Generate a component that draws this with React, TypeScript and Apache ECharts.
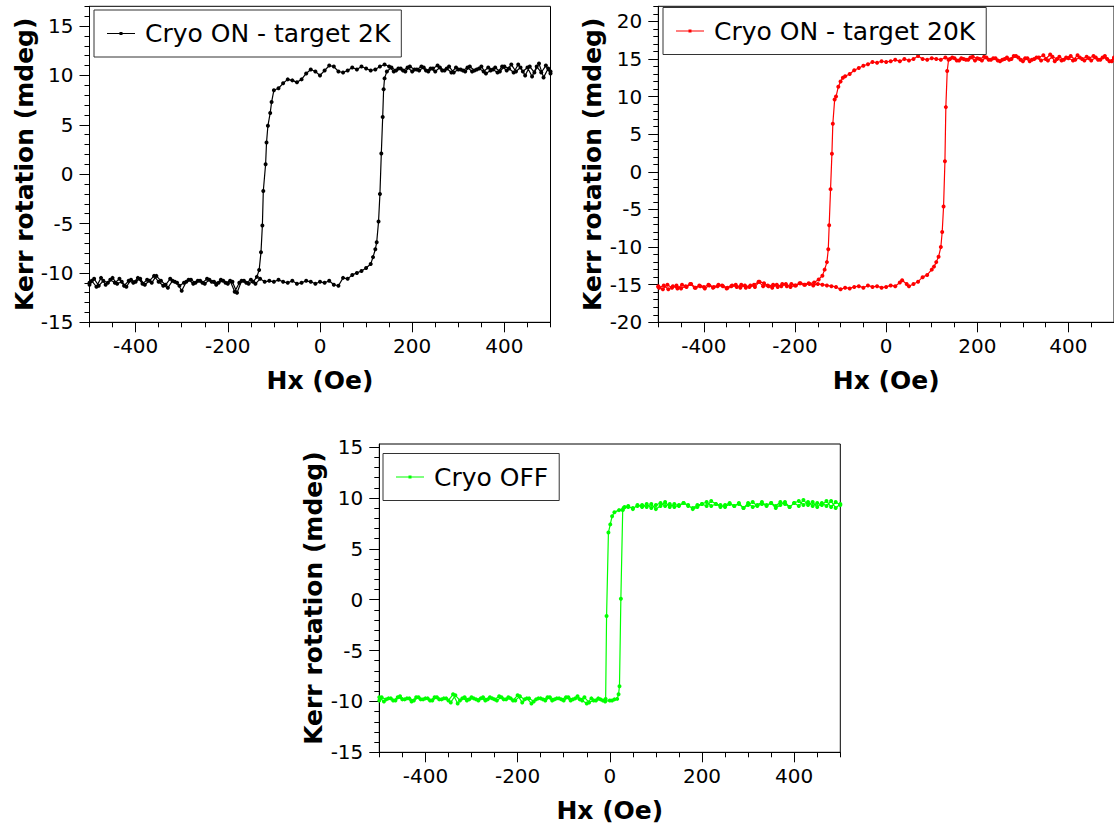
import React, { useEffect, useRef } from 'react';
import * as echarts from 'echarts';

const FONT = 'DejaVu Sans';

// Tick positions (Oe / mdeg)
const xMajor = [-400, -200, 0, 200, 400];
const xMinor = [-500, -450, -350, -300, -250, -150, -100, -50, 50, 100, 150, 250, 300, 350, 450, 500];
const y1Major = [-15, -10, -5, 0, 5, 10, 15];
const y1Minor = [-14, -13, -12, -11, -9, -8, -7, -6, -4, -3, -2, -1, 1, 2, 3, 4, 6, 7, 8, 9, 11, 12, 13, 14, 16, 17];
const y2Major = [-20, -15, -10, -5, 0, 5, 10, 15, 20];
const y2Minor = [-19, -18, -17, -16, -14, -13, -12, -11, -9, -8, -7, -6, -4, -3, -2, -1, 1, 2, 3, 4, 6, 7, 8, 9, 11, 12, 13, 14, 16, 17, 18, 19, 21, 22];
const y3Major = [-15, -10, -5, 0, 5, 10, 15];
const y3Minor = [-14, -13, -12, -11, -9, -8, -7, -6, -4, -3, -2, -1, 1, 2, 3, 4, 6, 7, 8, 9, 11, 12, 13, 14];

// Cryo ON - target 2K : [Hx (Oe), Kerr (mdeg)]
const down2K = [
  [500, 10.2], [490, 11.0], [480, 10.3], [470, 10.9], [460, 9.9], [450, 10.8], [440, 10.4], [430, 11.1], [420, 10.3], [410, 10.7],
  [400, 10.9], [390, 10.4], [380, 10.8], [370, 10.5], [360, 10.2], [350, 10.9], [340, 10.6], [330, 10.4], [320, 10.8], [310, 10.5],
  [300, 10.6], [290, 10.3], [280, 10.9], [270, 10.5], [260, 10.8], [250, 10.4], [240, 10.7], [230, 10.5], [220, 10.9], [210, 10.6],
  [200, 10.4], [190, 10.8], [180, 10.5], [170, 10.7], [160, 10.4], [150, 10.9], [140, 11.1], [130, 10.9], [120, 10.6], [110, 10.5],
  [100, 10.7], [90, 10.9], [80, 10.6], [70, 10.8], [60, 10.5], [50, 10.3], [40, 10.4], [30, 10.9], [20, 11.0], [10, 10.5],
  [0, 10.0], [-10, 10.4], [-20, 10.6], [-30, 10.2], [-40, 9.6], [-50, 9.3], [-60, 9.5], [-70, 9.6], [-80, 9.2], [-90, 8.7],
  [-100, 8.5], [-105, 7.3], [-108, 6.2], [-113, 4.9], [-116, 3.2], [-118, 1.0], [-123, -1.7], [-125, -5.2], [-128, -7.9], [-132, -9.7],
  [-137, -10.4], [-145, -10.9], [-155, -11.1], [-165, -10.8], [-175, -11.0], [-185, -11.9], [-195, -10.8], [-205, -11.0], [-215, -10.7], [-225, -11.2],
  [-235, -10.9], [-245, -10.6], [-255, -11.0], [-265, -10.8], [-275, -11.1], [-285, -10.7], [-295, -11.0], [-305, -11.3], [-315, -10.9], [-325, -10.6],
  [-335, -11.2], [-345, -10.8], [-355, -10.3], [-365, -11.0], [-375, -10.7], [-385, -11.1], [-395, -10.5], [-405, -11.0], [-415, -10.8], [-425, -11.3],
  [-435, -10.6], [-445, -11.0], [-455, -10.7], [-465, -11.2], [-475, -10.5], [-485, -11.4], [-495, -10.8], [-500, -11.0],
];
const up2K = [
  [-500, -11.2], [-490, -10.6], [-480, -11.3], [-470, -10.8], [-460, -11.0], [-450, -10.5], [-440, -11.1], [-430, -10.9], [-420, -11.4], [-410, -10.7],
  [-400, -10.9], [-390, -10.6], [-380, -11.2], [-370, -10.8], [-360, -10.3], [-350, -10.9], [-340, -11.3], [-330, -11.5], [-320, -10.8], [-310, -11.0],
  [-300, -11.8], [-290, -10.9], [-280, -10.7], [-270, -11.0], [-260, -10.8], [-250, -11.1], [-240, -10.7], [-230, -10.9], [-220, -11.0], [-210, -10.8],
  [-200, -11.1], [-190, -10.9], [-180, -12.0], [-170, -10.8], [-160, -11.0], [-150, -10.7], [-140, -11.1], [-130, -10.6], [-120, -10.9], [-110, -10.8],
  [-100, -10.9], [-90, -10.7], [-80, -10.9], [-70, -11.0], [-60, -10.8], [-50, -11.1], [-40, -11.0], [-30, -10.8], [-20, -10.9], [-10, -11.1],
  [0, -10.9], [10, -11.0], [20, -10.8], [30, -11.2], [40, -11.3], [50, -10.5], [60, -10.6], [70, -10.2], [80, -10.0], [90, -9.8],
  [100, -9.5], [110, -9.1], [115, -8.4], [120, -7.6], [123, -6.9], [127, -4.8], [130, -2.0], [133, 2.1], [136, 5.8], [138, 8.6],
  [140, 9.7], [145, 10.4], [155, 10.8], [165, 10.5], [175, 10.7], [185, 10.4], [195, 10.9], [205, 10.6], [215, 10.5], [225, 10.8],
  [235, 10.4], [245, 10.7], [255, 11.0], [265, 10.5], [275, 10.7], [285, 10.3], [295, 10.8], [305, 10.6], [315, 10.4], [325, 10.9],
  [335, 10.5], [345, 10.7], [355, 10.4], [365, 10.8], [375, 10.6], [385, 10.3], [395, 10.9], [405, 10.5], [415, 11.1], [425, 10.4],
  [435, 10.8], [445, 10.0], [455, 10.9], [465, 10.3], [475, 11.2], [485, 9.8], [495, 10.7], [500, 10.4],
];

// Cryo ON - target 20K
const down20K = [
  [500, 15.1], [490, 14.7], [480, 15.4], [470, 14.9], [460, 15.2], [450, 14.8], [440, 15.3], [430, 15.0], [420, 15.5], [410, 14.8],
  [400, 15.1], [390, 14.9], [380, 15.3], [370, 14.7], [360, 15.6], [350, 15.0], [340, 14.8], [330, 15.2], [320, 14.9], [310, 15.1],
  [300, 14.7], [290, 15.2], [280, 15.4], [270, 14.9], [260, 15.0], [250, 14.7], [240, 15.1], [230, 14.9], [220, 15.2], [210, 14.8],
  [200, 15.1], [190, 15.3], [180, 14.9], [170, 15.0], [160, 14.8], [150, 15.1], [140, 15.0], [130, 15.2], [120, 14.9], [110, 15.0],
  [100, 15.1], [90, 14.9], [80, 15.0], [70, 15.4], [60, 15.0], [50, 14.8], [40, 15.0], [30, 14.7], [20, 14.9], [10, 14.7],
  [0, 14.6], [-10, 14.7], [-20, 14.5], [-30, 14.6], [-40, 14.3], [-50, 14.1], [-60, 13.8], [-70, 13.5], [-80, 13.0], [-90, 12.7],
  [-95, 12.5], [-100, 12.0], [-105, 11.3], [-110, 10.0], [-113, 9.6], [-117, 6.4], [-119, 2.4], [-122, -2.3], [-125, -7.1], [-127, -10.3],
  [-130, -12.0], [-135, -13.0], [-140, -13.8], [-148, -14.3], [-158, -14.7], [-168, -14.9], [-178, -15.0], [-188, -14.8], [-198, -15.1], [-208, -14.9],
  [-218, -15.2], [-228, -14.9], [-238, -15.3], [-248, -15.0], [-258, -15.2], [-268, -14.8], [-278, -14.6], [-288, -15.3], [-298, -15.1], [-308, -15.4],
  [-318, -15.0], [-328, -15.3], [-338, -15.1], [-348, -15.4], [-358, -15.2], [-368, -15.0], [-378, -15.3], [-388, -15.1], [-398, -15.5], [-408, -15.2],
  [-418, -15.4], [-428, -14.9], [-438, -15.3], [-448, -15.0], [-458, -15.5], [-468, -15.2], [-478, -15.6], [-488, -15.1], [-498, -15.4], [-500, -15.3],
];
const up20K = [
  [-500, -15.2], [-490, -15.6], [-480, -15.0], [-470, -15.4], [-460, -15.1], [-450, -15.5], [-440, -15.2], [-430, -14.9], [-420, -15.4], [-410, -15.1],
  [-400, -15.3], [-390, -15.0], [-380, -15.4], [-370, -15.2], [-360, -15.1], [-350, -15.5], [-340, -15.2], [-330, -15.0], [-320, -15.4], [-310, -15.1],
  [-300, -15.3], [-290, -15.0], [-280, -14.6], [-270, -15.2], [-260, -15.1], [-250, -15.4], [-240, -15.0], [-230, -15.2], [-220, -14.9], [-210, -15.3],
  [-200, -15.1], [-190, -14.8], [-180, -15.0], [-170, -14.8], [-160, -15.1], [-150, -14.9], [-140, -15.0], [-130, -15.1], [-120, -15.2], [-110, -15.3],
  [-100, -15.6], [-90, -15.4], [-80, -15.5], [-70, -15.3], [-60, -15.2], [-50, -15.4], [-40, -15.1], [-30, -15.3], [-20, -15.2], [-10, -15.4],
  [0, -15.3], [10, -15.1], [20, -15.2], [30, -14.7], [35, -14.4], [45, -14.9], [50, -15.2], [60, -14.9], [70, -14.6], [80, -14.0],
  [90, -13.7], [100, -13.0], [105, -12.6], [110, -12.0], [115, -11.3], [120, -10.0], [123, -8.0], [126, -4.6], [129, 1.4], [131, 8.6],
  [134, 13.4], [137, 14.9], [145, 15.2], [155, 14.8], [165, 15.1], [175, 14.9], [185, 15.2], [195, 14.8], [205, 15.0], [215, 15.3],
  [225, 14.9], [235, 15.1], [245, 14.8], [255, 14.9], [265, 15.2], [275, 15.0], [285, 15.4], [295, 14.9], [305, 15.1], [315, 14.7],
  [325, 15.0], [335, 15.2], [345, 15.5], [355, 14.8], [365, 15.3], [375, 15.0], [385, 14.8], [395, 15.2], [405, 15.4], [415, 14.9],
  [425, 15.2], [435, 14.8], [445, 15.1], [455, 15.4], [465, 14.9], [475, 15.2], [485, 15.0], [495, 14.7], [500, 15.2],
];

// Cryo OFF
const downOff = [
  [500, 9.4], [490, 9.0], [480, 9.7], [470, 9.2], [460, 9.5], [450, 9.1], [440, 9.6], [430, 9.3], [420, 9.8], [410, 9.2],
  [400, 9.5], [390, 9.1], [380, 9.6], [370, 9.3], [360, 9.0], [350, 9.5], [340, 9.2], [330, 9.6], [320, 9.3], [310, 9.1],
  [300, 9.5], [290, 9.0], [280, 9.4], [270, 9.2], [260, 9.5], [250, 9.3], [240, 9.1], [230, 9.4], [220, 9.7], [210, 9.2],
  [200, 9.4], [190, 9.1], [180, 8.9], [170, 9.3], [160, 9.5], [150, 9.2], [140, 9.4], [130, 9.1], [120, 9.6], [110, 9.2],
  [100, 8.9], [90, 9.4], [80, 9.1], [70, 9.3], [60, 9.2], [50, 9.0], [40, 9.1], [30, 9.0], [20, 8.8], [10, 8.6],
  [5, 8.2], [1, 7.4], [-3, 6.6], [-7, -1.6], [-9, -9.75], [-15, -9.9], [-25, -9.7], [-35, -9.9], [-45, -10.1], [-55, -9.6],
  [-65, -9.8], [-75, -9.7], [-85, -9.9], [-95, -9.6], [-105, -9.8], [-115, -9.7], [-125, -9.9], [-135, -9.6], [-145, -9.8], [-155, -9.7],
  [-165, -10.0], [-175, -9.7], [-185, -9.8], [-195, -9.5], [-205, -9.9], [-215, -9.7], [-225, -9.8], [-235, -9.6], [-245, -9.9], [-255, -9.7],
  [-265, -9.8], [-275, -9.6], [-285, -9.9], [-295, -9.7], [-305, -9.8], [-315, -9.6], [-325, -9.9], [-335, -9.4], [-345, -10.1], [-355, -9.7],
  [-365, -9.8], [-375, -9.6], [-385, -9.9], [-395, -9.7], [-405, -9.8], [-415, -9.6], [-425, -9.9], [-435, -9.7], [-445, -9.8], [-455, -9.5],
  [-465, -9.9], [-475, -9.7], [-485, -9.8], [-495, -9.6], [-500, -9.9],
];
const upOff = [
  [-500, -9.6], [-490, -10.0], [-480, -9.7], [-470, -9.9], [-460, -9.6], [-450, -9.8], [-440, -9.7], [-430, -10.0], [-420, -9.6], [-410, -9.8],
  [-400, -9.7], [-390, -9.9], [-380, -9.6], [-370, -9.8], [-360, -9.7], [-350, -9.9], [-340, -9.3], [-330, -10.2], [-320, -9.7], [-310, -9.9],
  [-300, -9.6], [-290, -9.8], [-280, -9.7], [-270, -9.9], [-260, -9.6], [-250, -9.8], [-240, -9.5], [-230, -9.8], [-220, -9.6], [-210, -9.9],
  [-200, -9.4], [-190, -10.1], [-180, -9.7], [-170, -10.2], [-160, -9.8], [-150, -9.7], [-140, -9.9], [-130, -9.6], [-120, -9.8], [-110, -9.7],
  [-100, -9.9], [-90, -9.6], [-80, -9.8], [-70, -9.5], [-60, -9.9], [-50, -10.2], [-40, -9.7], [-30, -9.9], [-20, -9.8], [-10, -10.0],
  [0, -9.9], [5, -9.9], [10, -9.8], [16, -9.75], [19, -9.3], [21, -8.5], [24, 0.1], [28, 8.8], [32, 9.1], [40, 9.2],
  [50, 8.9], [60, 9.3], [70, 9.1], [80, 9.4], [90, 9.0], [100, 9.3], [110, 9.5], [120, 9.2], [130, 9.4], [140, 9.1],
  [150, 9.3], [160, 9.5], [170, 9.2], [180, 9.0], [190, 9.3], [200, 9.4], [210, 9.6], [220, 9.2], [230, 9.4], [240, 9.3],
  [250, 9.1], [260, 9.4], [270, 9.2], [280, 9.5], [290, 9.0], [300, 9.3], [310, 9.6], [320, 9.2], [330, 9.4], [340, 9.3],
  [350, 9.5], [360, 9.2], [370, 9.6], [380, 9.4], [390, 9.1], [400, 9.5], [410, 9.7], [420, 9.3], [430, 9.6], [440, 9.2],
  [450, 9.5], [460, 9.3], [470, 9.7], [480, 9.1], [490, 9.6], [500, 9.3],
];

const names = ['Cryo ON - target 2K', 'Cryo ON - target 20K', 'Cryo OFF'];
const colors = ['#000000', '#ff0000', '#00ff00'];

const ICON = 'path://M0,0h0.01v0.01h-0.01z M33,10h-0.01v-0.01h0.01z M0,4.5h28v1h-28z M12.5,3.5h3v3h-3z';

const panels = [
  { left: 89.5, top: 6.3, yMin: -15, yMax: 17, yMajor: y1Major, yMinor: y1Minor, legendLeft: 94, legendTop: 10, data: [...down2K, ...up2K] },
  { left: 658.3, top: 6.3, yMin: -20, yMax: 22, yMajor: y2Major, yMinor: y2Minor, legendLeft: 663, legendTop: 7.5, data: [...down20K, ...up20K] },
  { left: 379.3, top: 444, yMin: -15, yMax: 15.3, yMajor: y3Major, yMinor: y3Minor, legendLeft: 383, legendTop: 453.5, data: [...downOff, ...upOff] },
];
const GW = 461;
const GH = [316, 316, 308.3];

export default function App() {
  const ref = useRef<HTMLDivElement>(null);
  useEffect(() => {
    if (!ref.current) return;
    const chart = echarts.init(ref.current, null, { renderer: 'svg' });
    const grid: any[] = [];
    const xAxis: any[] = [];
    const yAxis: any[] = [];
    const series: any[] = [];
    const legend: any[] = [];
    panels.forEach((p, i) => {
      const g = { left: p.left, top: p.top, width: GW, height: GH[i] };
      grid.push({ ...g, show: true, borderColor: '#000', borderWidth: 1, backgroundColor: 'transparent' });
      grid.push({ ...g, show: false });
      const mainIdx = i * 2;
      const minorIdx = i * 2 + 1;
      xAxis.push({
        type: 'value', gridIndex: mainIdx, min: -500, max: 500,
        name: 'Hx (Oe)', nameLocation: 'middle', nameGap: 46,
        nameTextStyle: { fontFamily: FONT, fontSize: 25, fontWeight: 'bold', color: '#000' },
        axisLine: { show: true, onZero: false, lineStyle: { color: '#000', width: 1 } },
        axisTick: { show: true, length: 10, customValues: xMajor, lineStyle: { color: '#000', width: 1 } },
        axisLabel: { customValues: xMajor, fontFamily: FONT, fontSize: 20, color: '#000', margin: 14 },
        splitLine: { show: false },
      });
      xAxis.push({
        type: 'value', gridIndex: minorIdx, min: -500, max: 500,
        axisLine: { show: false, onZero: false },
        axisTick: { show: true, length: 5, customValues: xMinor, lineStyle: { color: '#000', width: 1 } },
        axisLabel: { show: false },
        splitLine: { show: false },
      });
      yAxis.push({
        type: 'value', gridIndex: mainIdx, min: p.yMin, max: p.yMax,
        name: 'Kerr rotation (mdeg)', nameLocation: 'middle', nameGap: 53, nameRotate: 90,
        nameTextStyle: { fontFamily: FONT, fontSize: 25, fontWeight: 'bold', color: '#000' },
        axisLine: { show: true, onZero: false, lineStyle: { color: '#000', width: 1 } },
        axisTick: { show: true, length: 10, customValues: p.yMajor, lineStyle: { color: '#000', width: 1 } },
        axisLabel: { customValues: p.yMajor, fontFamily: FONT, fontSize: 20, color: '#000', margin: 16 },
        splitLine: { show: false },
      });
      yAxis.push({
        type: 'value', gridIndex: minorIdx, min: p.yMin, max: p.yMax,
        axisLine: { show: false, onZero: false },
        axisTick: { show: true, length: 5, customValues: p.yMinor, lineStyle: { color: '#000', width: 1 } },
        axisLabel: { show: false },
        splitLine: { show: false },
      });
      series.push({
        type: 'line', name: names[i], xAxisIndex: mainIdx, yAxisIndex: mainIdx,
        data: p.data, symbol: 'circle', symbolSize: 4, showSymbol: true, showAllSymbol: true,
        lineStyle: { width: 1.2, color: colors[i] }, itemStyle: { color: colors[i], borderWidth: 0 },
        clip: true, emphasis: { disabled: true }, z: 2,
      });
      legend.push({
        left: p.legendLeft, top: p.legendTop, orient: 'horizontal',
        data: [{ name: names[i], icon: ICON }],
        itemWidth: 33, itemHeight: 10, itemGap: 0,
        padding: [11, 11, 11, 13],
        borderColor: '#333', borderWidth: 1, backgroundColor: '#fff',
        itemStyle: { borderWidth: 0 },
        textStyle: { fontFamily: FONT, fontSize: 25, color: '#000' },
        selectedMode: false,
      });
    });
    chart.setOption({
      animation: false,
      backgroundColor: '#fff',
      textStyle: { fontFamily: FONT },
      grid, xAxis, yAxis, series, legend,
    });
    return () => chart.dispose();
  }, []);
  return <div ref={ref} style={{ position: 'absolute', left: 0, top: 0, width: 1114, height: 829 }} />;
}
